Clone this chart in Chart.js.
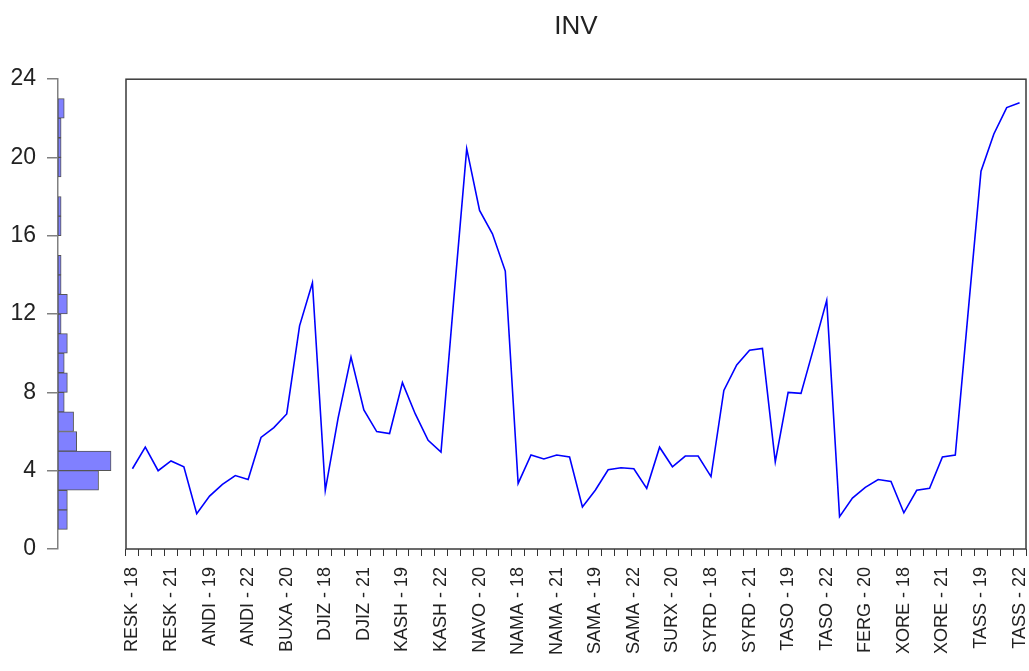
<!DOCTYPE html>
<html><head><meta charset="utf-8">
<script src="https://cdn.jsdelivr.net/npm/chart.js@4.4.1/dist/chart.umd.min.js"></script>
<style>
html,body{margin:0;padding:0;background:#fff;}
#wrap{position:relative;width:1029px;height:671px;overflow:hidden;}
canvas{position:absolute;top:0;left:0;}
</style></head><body>
<div id="wrap">
<canvas id="main" width="1029" height="671"></canvas>
<canvas id="hist" width="126" height="671"></canvas>
</div>
<script>
const categories = [
 'RESK - 18','RESK - 19','RESK - 20','RESK - 21','RESK - 22',
 'ANDI - 18','ANDI - 19','ANDI - 20','ANDI - 21','ANDI - 22',
 'BUXA - 18','BUXA - 19','BUXA - 20','BUXA - 21','BUXA - 22',
 'DJIZ - 18','DJIZ - 19','DJIZ - 20','DJIZ - 21','DJIZ - 22',
 'KASH - 18','KASH - 19','KASH - 20','KASH - 21','KASH - 22',
 'NAVO - 18','NAVO - 19','NAVO - 20','NAVO - 21','NAVO - 22',
 'NAMA - 18','NAMA - 19','NAMA - 20','NAMA - 21','NAMA - 22',
 'SAMA - 18','SAMA - 19','SAMA - 20','SAMA - 21','SAMA - 22',
 'SURX - 18','SURX - 19','SURX - 20','SURX - 21','SURX - 22',
 'SYRD - 18','SYRD - 19','SYRD - 20','SYRD - 21','SYRD - 22',
 'TASO - 18','TASO - 19','TASO - 20','TASO - 21','TASO - 22',
 'FERG - 18','FERG - 19','FERG - 20','FERG - 21','FERG - 22',
 'XORE - 18','XORE - 19','XORE - 20','XORE - 21','XORE - 22',
 'TASS - 18','TASS - 19','TASS - 20','TASS - 21','TASS - 22'
];
const invValues = [
 4.1, 5.2, 4.0, 4.5, 4.2,
 1.8, 2.7, 3.3, 3.75, 3.55,
 5.7, 6.2, 6.9, 11.4, 13.6,
 3.0, 6.7, 9.8, 7.1, 6.0,
 5.9, 8.5, 6.9, 5.55, 4.95,
 12.8, 20.45, 17.3, 16.1, 14.2,
 3.35, 4.8, 4.6, 4.8, 4.7,
 2.15, 3.0, 4.05, 4.15, 4.1,
 3.1, 5.2, 4.2, 4.75, 4.75,
 3.7, 8.1, 9.4, 10.15, 10.25,
 4.45, 8.0, 7.95, 10.3, 12.7,
 1.65, 2.6, 3.15, 3.55, 3.45,
 1.85, 3.0, 3.1, 4.7, 4.8,
 12.1, 19.3, 21.2, 22.55, 22.8
];
const yTickStep = 4;
const histBinStarts = [0,1,2,3,4,5,6,7,8,9,10,11,12,13,14,15,16,17,18,19,20,21,22,23];
const histCounts    = [0,3,3,13,17,6,5,2,3,2,3,1,3,1,1,0,1,1,0,1,1,1,2,0];

const FONT = "'Liberation Sans', Arial, sans-serif";

const frame = {
  id: 'frame',
  afterDatasetsDraw(c) {
    const a = c.chartArea, ctx = c.ctx;
    ctx.save();
    ctx.strokeStyle = '#3a3a3a';
    ctx.lineWidth = 1.5;
    ctx.strokeRect(a.left, a.top, a.right - a.left, a.bottom - a.top);
    ctx.restore();
  }
};

new Chart(document.getElementById('main'), {
  type: 'line',
  data: {
    labels: categories,
    datasets: [{
      data: invValues,
      borderColor: '#0000ff',
      borderWidth: 1.6,
      pointRadius: 0,
      tension: 0,
      fill: false
    }]
  },
  options: {
    responsive: false,
    animation: false,
    devicePixelRatio: 1,
    layout: { padding: { left: 126, right: 3, top: 0, bottom: 0 } },
    plugins: {
      legend: { display: false },
      tooltip: { enabled: false },
      title: {
        display: true, text: 'INV', fullSize: false, color: '#222',
        font: { family: FONT, size: 26, weight: 'normal' },
        padding: { top: 11, bottom: 37 }
      }
    },
    scales: {
      x: {
        type: 'category',
        offset: true,
        grid: { offset: true, drawOnChartArea: false, tickLength: 7, color: '#333', lineWidth: 1 },
        border: { display: false },
        ticks: {
          autoSkip: false, minRotation: 90, maxRotation: 90, padding: 11,
          color: '#222', font: { family: FONT, size: 18 },
          callback: (v, i) => (i % 3 === 0 ? categories[i] : '')
        },
        afterFit: s => { s.height = 122; s.paddingLeft = 0; s.paddingRight = 0; }
      },
      y: { display: false, min: 0, max: 24 }
    }
  },
  plugins: [frame]
});

const histData = histBinStarts
  .map((b, i) => ({ x: histCounts[i], y: b + 0.5 }))
  .filter(d => d.x > 0);

new Chart(document.getElementById('hist'), {
  type: 'bar',
  data: {
    datasets: [{
      data: histData,
      backgroundColor: '#8080ff',
      borderColor: '#555',
      borderWidth: 1,
      borderSkipped: false,
      barPercentage: 1,
      categoryPercentage: 1
    }]
  },
  options: {
    indexAxis: 'y',
    responsive: false,
    animation: false,
    devicePixelRatio: 1,
    layout: { padding: { top: 79, bottom: 122, left: 0, right: 0 } },
    plugins: { legend: { display: false }, tooltip: { enabled: false } },
    scales: {
      y: {
        type: 'linear', min: 0, max: 24, position: 'left', offset: false,
        ticks: { stepSize: yTickStep, padding: 11, color: '#222', font: { family: FONT, size: 23 } },
        grid: { offset: false, drawOnChartArea: false, tickLength: 11, color: '#808080', lineWidth: 1.5 },
        border: { color: '#808080', width: 1.5 },
        afterFit: s => { s.width = 58; }
      },
      x: { type: 'linear', min: 0, max: 21.8, display: false }
    }
  }
});
</script>
</body></html>
